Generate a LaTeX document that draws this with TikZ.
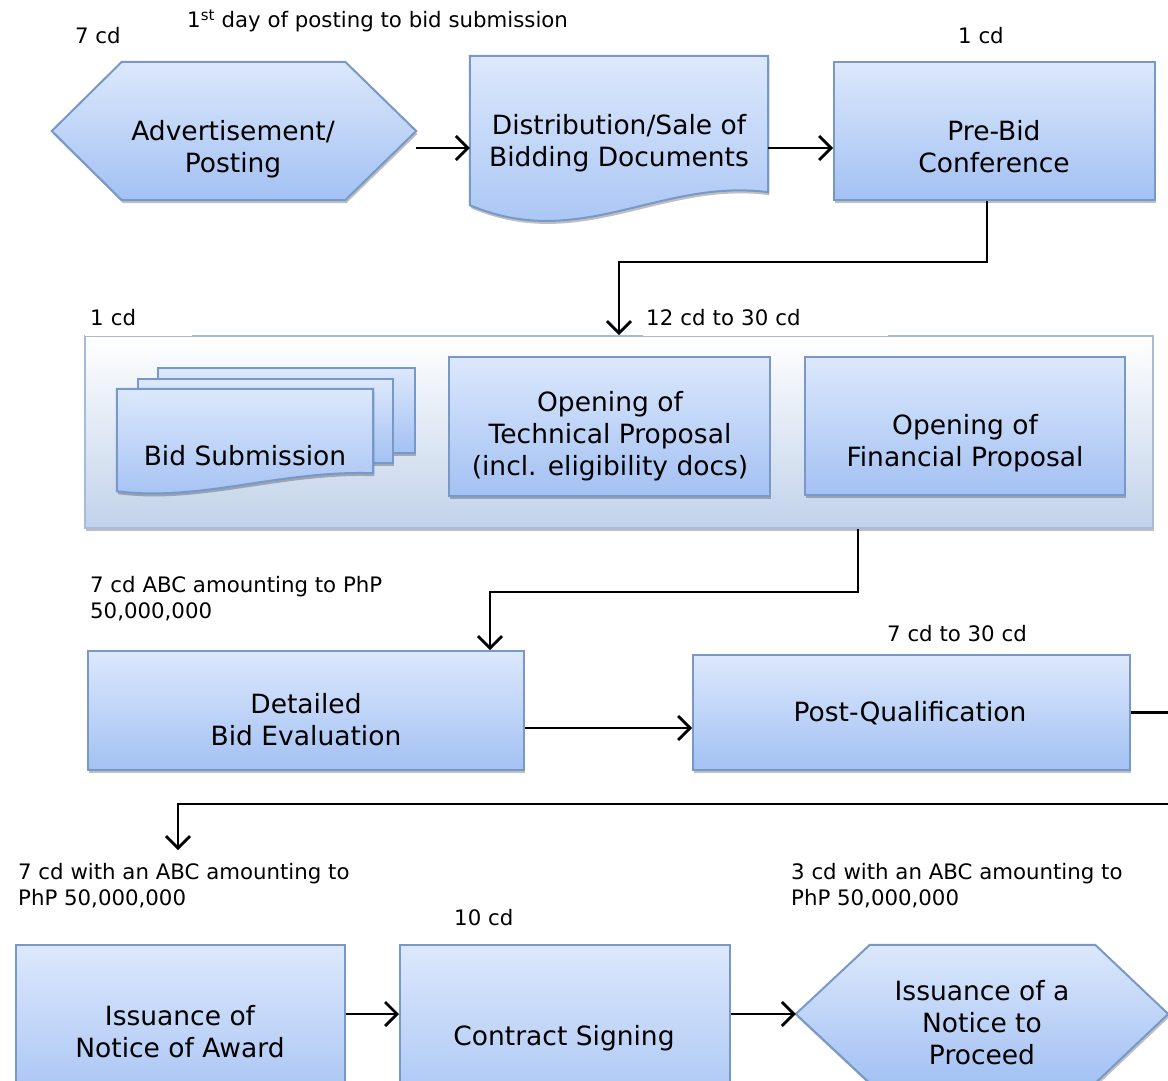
\documentclass[tikz,border=0pt]{standalone}
\usepackage{fontspec}
\setmainfont{DejaVu Sans}
\usetikzlibrary{arrows.meta,shadows}

\definecolor{fillTop}{HTML}{DCE8FC}
\definecolor{fillBot}{HTML}{A3C1F3}
\definecolor{edgeBlue}{HTML}{7898C8}
\definecolor{panelBot}{HTML}{C1D2EA}
\definecolor{panelEdge}{HTML}{A4BBD9}

\tikzset{
  softshadow/.style={drop shadow={shadow xshift=1.2pt, shadow yshift=-3pt, opacity=0.25, fill=black}},
  bluefill/.style={top color=fillTop, bottom color=fillBot, draw=edgeBlue, line width=2pt, softshadow},
  stepbox/.style={bluefill, rectangle, inner sep=0pt},
  shapeframe/.style={rectangle, inner sep=0pt},
  boxtext/.style={font=\fontsize{26.5}{32}\selectfont, align=center, inner sep=0pt},
  cdnote/.style={font=\fontsize{21.3}{26}\selectfont, align=left, inner sep=0pt, anchor=north west},
  flowarrow/.style={line width=2.8pt, line join=miter, -{Straight Barb[length=12pt,width=24pt]}}
}

\begin{document}
\begin{tikzpicture}[x=1pt, y=-1pt]
\useasboundingbox (0,0) rectangle (1168,1081);
\clip (0,0) rectangle (1168,1081);

% ---------- first row ----------
\node[shapeframe, minimum width=364pt, minimum height=138pt] (adv) at (234,131) {};
\path[bluefill] (adv.west) -- ([xshift=70pt]adv.north west) -- ([xshift=-71pt]adv.north east)
  -- (adv.east) -- ([xshift=-71pt]adv.south east) -- ([xshift=70pt]adv.south west) -- cycle;
\node[boxtext] (adv-t) at (233,149) {Advertisement/\\Posting};

\node[shapeframe, minimum width=298pt, minimum height=136pt] (dist) at (619,124) {};
\path[bluefill] (dist.south east) -- (dist.north east) -- (dist.north west)
  -- ([yshift=-13pt]dist.south west) .. controls (580,252) and (660,178) .. (dist.south east) -- cycle;
\node[boxtext] (dist-t) at (619,143) {Distribution/Sale of\\Bidding Documents};

\node[stepbox, minimum width=321pt, minimum height=138pt] (prebid) at (994.5,131) {};
\node[boxtext] (prebid-t) at (994,147) {Pre-Bid\\Conference};

% ---------- bid opening panel ----------
\node[rectangle, inner sep=0pt, minimum width=1068pt, minimum height=192pt,
      top color=white, bottom color=panelBot, draw=panelEdge, line width=1.6pt, softshadow]
      (grp) at (619,432) {};

\node[stepbox, minimum width=257pt, minimum height=85pt] (bid3) at (286.5,410.5) {};
\node[stepbox, minimum width=255pt, minimum height=84pt] (bid2) at (265.5,421) {};
\node[shapeframe, minimum width=256pt, minimum height=84pt] (bid1) at (245,431) {};
\path[bluefill] (bid1.south east) -- (bid1.north east) -- (bid1.north west)
  -- ([yshift=-18pt]bid1.south west) .. controls (200,502) and (280,470) .. (bid1.south east) -- cycle;
\node[boxtext] (bid-t) at (245,456) {Bid Submission};

\node[stepbox, minimum width=321pt, minimum height=139pt] (tech) at (609.5,426.5) {};
\node[boxtext] (tech-t) at (610,436) {Opening of\\Technical Proposal\\(incl. eligibility docs)};

\node[stepbox, minimum width=320pt, minimum height=138pt] (fin) at (965,426) {};
\node[boxtext] (fin-t) at (965,443) {Opening of\\Financial Proposal};

% ---------- evaluation row ----------
\node[stepbox, minimum width=436pt, minimum height=119pt] (dbe) at (306,710.5) {};
\node[boxtext] (dbe-t) at (306,719.5) {Detailed\\Bid Evaluation};

\node[stepbox, minimum width=437pt, minimum height=115pt] (pq) at (911.5,712.5) {};
\node[boxtext] (pq-t) at (910,713) {Post-Qualification};

% ---------- award row ----------
\node[stepbox, minimum width=329pt, minimum height=172pt] (noa) at (180.5,1031) {};
\node[boxtext] (noa-t) at (180,1031.5) {Issuance of\\Notice of Award};

\node[stepbox, minimum width=330pt, minimum height=186pt] (cs) at (565,1038) {};
\node[boxtext] (cs-t) at (564,1038) {Contract Signing};

\node[shapeframe, minimum width=372pt, minimum height=138pt] (ntp) at (982,1014) {};
\path[bluefill] (ntp.west) -- ([xshift=74pt]ntp.north west) -- ([xshift=-73pt]ntp.north east)
  -- (ntp.east) -- ([xshift=-73pt]ntp.south east) -- ([xshift=74pt]ntp.south west) -- cycle;
\node[boxtext] (ntp-t) at (982,1023) {Issuance of a\\Notice to\\Proceed};

% ---------- connectors ----------
\draw[flowarrow] ([yshift=-17pt]adv.east) -- ([yshift=-17pt]adv.east -| dist.west);
\draw[flowarrow] ([yshift=-24pt]dist.east) -- ([yshift=-17pt]prebid.west);
\coordinate (bend1) at (987,262);
\draw[flowarrow] (prebid.south -| bend1) -- (bend1) -| (grp.north);
\coordinate (bend2) at (858,592);
\draw[flowarrow] (grp.south -| bend2) -- (bend2) -| ([xshift=184pt]dbe.north);
\draw[flowarrow] ([yshift=-17.5pt]dbe.east) -- ([yshift=-15.5pt]pq.west);
\coordinate (bend3) at (1190,804);
\coordinate (drop) at (178,850);
\draw[flowarrow] (pq.east) -| (bend3) -| (drop);
\draw[flowarrow] (noa.east |- ntp.west) -- (cs.west |- ntp.west);
\draw[flowarrow] (cs.east |- ntp.west) -- (ntp.west);

% ---------- durations ----------
\node[cdnote] (n1) at (75,27.6) {7 cd};
\node[cdnote] (n2) at (187,11.6) {1\smash{\textsuperscript{st}} day of posting to bid submission};
\node[cdnote] (n3) at (958,27.6) {1 cd};
\node[cdnote, fill=white, inner xsep=5pt, text width=97pt, minimum height=38pt] (n4) at (85,298) {1 cd};
\node[cdnote, fill=white, inner xsep=3pt, text width=239pt, minimum height=38pt] (n5) at (643,298) {12 cd to 30 cd};
\node[cdnote] (n6) at (90,576.6) {7 cd ABC amounting to PhP\\50,000,000};
\node[cdnote] (n7) at (887,625.6) {7 cd to 30 cd};
\node[cdnote] (n8) at (18,863.6) {7 cd with an ABC amounting to\\PhP 50,000,000};
\node[cdnote] (n9) at (454,909.6) {10 cd};
\node[cdnote] (n10) at (791,863.6) {3 cd with an ABC amounting to\\PhP 50,000,000};
\end{tikzpicture}
\end{document}
